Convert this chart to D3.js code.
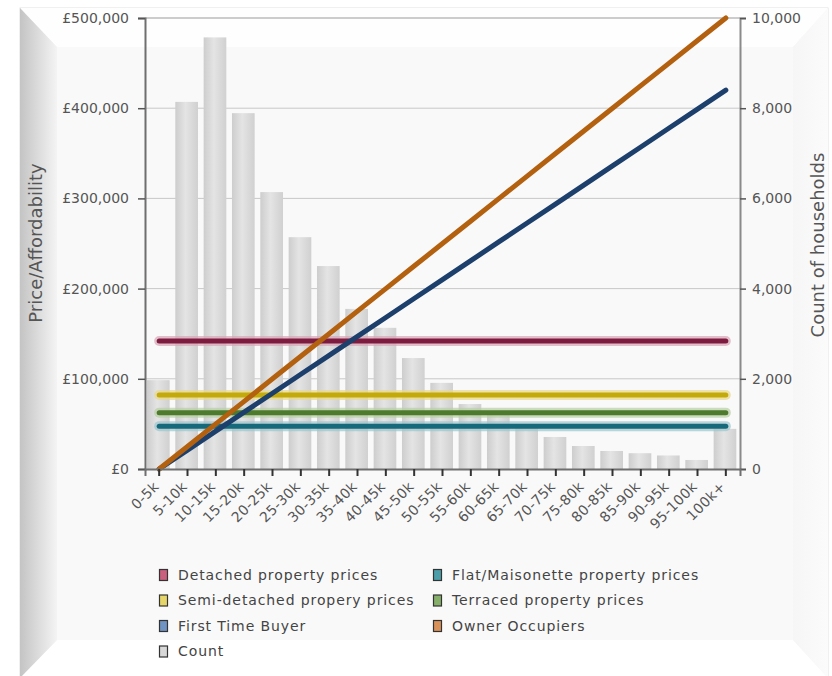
<!DOCTYPE html>
<html>
<head>
<meta charset="utf-8">
<script src="https://cdn.jsdelivr.net/npm/d3@7/dist/d3.min.js"></script>
<style>
  html, body { margin: 0; padding: 0; background: #ffffff; }
  svg { display: block; font-family: "DejaVu Sans", sans-serif; }
</style>
</head>
<body>
<svg id="chart" width="832" height="676"></svg>
<script>
// Income bands of households
const categories = ["0-5k", "5-10k", "10-15k", "15-20k", "20-25k", "25-30k", "30-35k",
  "35-40k", "40-45k", "45-50k", "50-55k", "55-60k", "60-65k", "65-70k", "70-75k",
  "75-80k", "80-85k", "85-90k", "90-95k", "95-100k", "100k+"];

// Count of households in each band (right axis)
const householdCounts = [1970, 8140, 9570, 7890, 6140, 5140, 4500, 3550, 3130, 2460,
  1910, 1440, 1240, 950, 710, 510, 400, 350, 300, 200, 890];

// Affordability per band (left axis)
const firstTimeBuyer = [0, 21000, 42000, 63000, 84000, 105000, 126000, 147000, 168000,
  189000, 210000, 231000, 252000, 273000, 294000, 315000, 336000, 357000, 378000,
  399000, 420000];
const ownerOccupiers = [0, 25000, 50000, 75000, 100000, 125000, 150000, 175000, 200000,
  225000, 250000, 275000, 300000, 325000, 350000, 375000, 400000, 425000, 450000,
  475000, 500000];

// Average property prices by type
const detachedPrice = 142000;
const semiDetachedPrice = 82000;
const terracedPrice = 62500;
const flatPrice = 47500;

const priceTicks = [0, 100000, 200000, 300000, 400000, 500000];
const countTicks = [0, 2000, 4000, 6000, 8000, 10000];

const svg = d3.select("#chart");
const defs = svg.append("defs");

// ---- bevelled frame ----
const leftGrad = defs.append("linearGradient").attr("id", "leftBevel")
  .attr("x1", "0").attr("x2", "1").attr("y1", "0").attr("y2", "0");
leftGrad.append("stop").attr("offset", "0").attr("stop-color", "#c4c4c4");
leftGrad.append("stop").attr("offset", "1").attr("stop-color", "#f4f4f4");
const rightGrad = defs.append("linearGradient").attr("id", "rightBevel")
  .attr("x1", "0").attr("x2", "1").attr("y1", "0").attr("y2", "0");
rightGrad.append("stop").attr("offset", "0").attr("stop-color", "#f6f6f6");
rightGrad.append("stop").attr("offset", "1").attr("stop-color", "#fbfbfb");

const fo = { l: 20, t: 8, r: 828, b: 678 };
const fi = { l: 57, t: 47, r: 793, b: 640 };
const frame = svg.append("g");
frame.append("rect").attr("x", fo.l).attr("y", fo.t).attr("width", fo.r - fo.l).attr("height", fo.b - fo.t)
  .attr("fill", "#f8f8f8").attr("stroke", "#e2e2e2");
frame.append("polygon").attr("points", [[fo.l, fo.t], [fo.r, fo.t], [fi.r, fi.t], [fi.l, fi.t]].join(" "))
  .attr("fill", "#fefefe");
frame.append("polygon").attr("points", [[fo.l, fo.b], [fi.l, fi.b], [fi.r, fi.b], [fo.r, fo.b]].join(" "))
  .attr("fill", "#ffffff");
frame.append("polygon").attr("points", [[fo.r, fo.t], [fo.r, fo.b], [fi.r, fi.b], [fi.r, fi.t]].join(" "))
  .attr("fill", "url(#rightBevel)");
frame.append("polygon").attr("points", [[fo.l, fo.t], [fi.l, fi.t], [fi.l, fi.b], [fo.l, fo.b]].join(" "))
  .attr("fill", "url(#leftBevel)");
frame.append("rect").attr("x", fi.l).attr("y", fi.t).attr("width", fi.r - fi.l).attr("height", fi.b - fi.t)
  .attr("fill", "#f9f9f9");

// ---- scales ----
const plot = { l: 145, r: 740, t: 18, b: 469 };
const x = d3.scaleBand().domain(categories).range([plot.l, plot.r]);
const yPrice = d3.scaleLinear().domain([0, 500000]).range([plot.b, plot.t]);
const yCount = d3.scaleLinear().domain([0, 10000]).range([plot.b, plot.t]);
const cx = d => x(d) + x.bandwidth() / 2;

// ---- gridlines ----
svg.append("g").selectAll("line").data(priceTicks.slice(1, -1)).join("line")
  .attr("x1", plot.l).attr("x2", plot.r)
  .attr("y1", d => yPrice(d)).attr("y2", d => yPrice(d))
  .attr("stroke", "#c8c8c8").attr("stroke-width", 1);
svg.append("line").attr("x1", plot.l).attr("x2", plot.r)
  .attr("y1", plot.t).attr("y2", plot.t).attr("stroke", "#9a9a9a").attr("stroke-width", 1);

// ---- count bars ----
const barGrad = defs.append("linearGradient").attr("id", "barFill")
  .attr("x1", "0").attr("x2", "1").attr("y1", "0").attr("y2", "0");
barGrad.append("stop").attr("offset", "0").attr("stop-color", "#cdcdcd");
barGrad.append("stop").attr("offset", "0.45").attr("stop-color", "#e4e4e4");
barGrad.append("stop").attr("offset", "1").attr("stop-color", "#d0d0d0");

const barInset = x.bandwidth() * 0.07;
const barWidth = x.bandwidth() * 0.8;
svg.append("g").selectAll("rect").data(categories).join("rect")
  .attr("x", d => x(d) + barInset)
  .attr("width", barWidth)
  .attr("y", (d, i) => yCount(householdCounts[i]))
  .attr("height", (d, i) => plot.b - yCount(householdCounts[i]))
  .attr("fill", "url(#barFill)");

// ---- property price lines ----
const priceLines = [
  { value: detachedPrice, color: "#7d1c3e", halo: "#d9a6b8" },
  { value: semiDetachedPrice, color: "#c4a90a", halo: "#e8da8a" },
  { value: terracedPrice, color: "#4d7a2c", halo: "#b8cfa4" },
  { value: flatPrice, color: "#16697a", halo: "#9dc6cf" }
];
const x0 = cx(categories[0]);
const x1 = cx(categories[categories.length - 1]);
const priceG = svg.append("g");
priceLines.forEach(p => {
  priceG.append("line").attr("x1", x0).attr("x2", x1)
    .attr("y1", yPrice(p.value)).attr("y2", yPrice(p.value))
    .attr("stroke", p.halo).attr("stroke-width", 10).attr("stroke-linecap", "round").attr("opacity", 0.7);
  priceG.append("line").attr("x1", x0).attr("x2", x1)
    .attr("y1", yPrice(p.value)).attr("y2", yPrice(p.value))
    .attr("stroke", p.color).attr("stroke-width", 5).attr("stroke-linecap", "round");
});

// ---- affordability lines ----
const line = d3.line().x((d, i) => cx(categories[i])).y(d => yPrice(d));
svg.append("path").datum(firstTimeBuyer).attr("d", line)
  .attr("fill", "none").attr("stroke", "#1c3f6c").attr("stroke-width", 5)
  .attr("stroke-linecap", "round").attr("stroke-linejoin", "round");
svg.append("path").datum(ownerOccupiers).attr("d", line)
  .attr("fill", "none").attr("stroke", "#b3600f").attr("stroke-width", 5)
  .attr("stroke-linecap", "round").attr("stroke-linejoin", "round");

// ---- axes ----
function styleAxis(g) {
  g.select(".domain").attr("stroke", "#6f6f6f").attr("stroke-width", 2);
  g.selectAll(".tick line").attr("stroke", "#555").attr("stroke-width", 1.5);
  g.selectAll(".tick text").attr("fill", "#555").style("font-size", "14px")
    .style("font-family", "'DejaVu Sans', sans-serif");
}

svg.append("g").attr("transform", `translate(${plot.l},0)`)
  .call(d3.axisLeft(yPrice).tickValues(priceTicks)
    .tickFormat(d => "£" + d3.format(",")(d)).tickSizeOuter(0).tickSize(7).tickPadding(9))
  .call(styleAxis);

const rightAxis = svg.append("g").attr("transform", `translate(${plot.r},0)`)
  .call(d3.axisRight(yCount).tickValues(countTicks)
    .tickFormat(d3.format(",")).tickSizeOuter(0).tickSize(6).tickPadding(6))
  .call(styleAxis);
rightAxis.select(".domain").attr("stroke", "#8a8a8a");

const bottomAxis = svg.append("g").attr("transform", `translate(0,${plot.b})`)
  .call(d3.axisBottom(x).tickSizeOuter(0).tickSize(7))
  .call(styleAxis);
bottomAxis.selectAll(".tick line").attr("stroke", "#333").attr("stroke-width", 2);
bottomAxis.selectAll(".tick text")
  .style("font-size", "14px")
  .style("letter-spacing", "0.3px")
  .attr("text-anchor", "end")
  .attr("dy", "0.35em")
  .attr("y", 0).attr("x", 0)
  .attr("transform", "translate(-3,15) rotate(-45)");

// ---- axis titles ----
svg.append("text").attr("transform", "translate(42,243) rotate(-90)")
  .attr("text-anchor", "middle").attr("fill", "#555").style("font-size", "18px")
  .text("Price/Affordability");
svg.append("text").attr("transform", "translate(824,245) rotate(-90)")
  .attr("text-anchor", "middle").attr("fill", "#555").style("font-size", "18px")
  .text("Count of households");

// ---- legend ----
const legendItems = [
  { label: "Detached property prices", color: "#c8607e", col: 0, row: 0 },
  { label: "Flat/Maisonette property prices", color: "#4c9ea8", col: 1, row: 0 },
  { label: "Semi-detached propery prices", color: "#e6d66a", col: 0, row: 1 },
  { label: "Terraced property prices", color: "#86b06a", col: 1, row: 1 },
  { label: "First Time Buyer", color: "#6f93c2", col: 0, row: 2 },
  { label: "Owner Occupiers", color: "#d9925a", col: 1, row: 2 },
  { label: "Count", color: "#d8d8d8", col: 0, row: 3 }
];
const legendCols = [159, 433];
const legendTop = 575;
const legendStep = 25.5;
const leg = svg.append("g").selectAll("g").data(legendItems).join("g")
  .attr("transform", d => `translate(${legendCols[d.col]},${legendTop + d.row * legendStep})`);
leg.append("rect").attr("x", 0.5).attr("y", -5.5).attr("width", 8).attr("height", 11)
  .attr("fill", d => d.color).attr("stroke", "#333").attr("stroke-width", 1.2);
leg.append("text").attr("x", 19).attr("y", 0).attr("dy", "0.35em")
  .attr("fill", "#444").style("font-size", "14px").style("letter-spacing", "0.9px")
  .text(d => d.label);
</script>
</body>
</html>
